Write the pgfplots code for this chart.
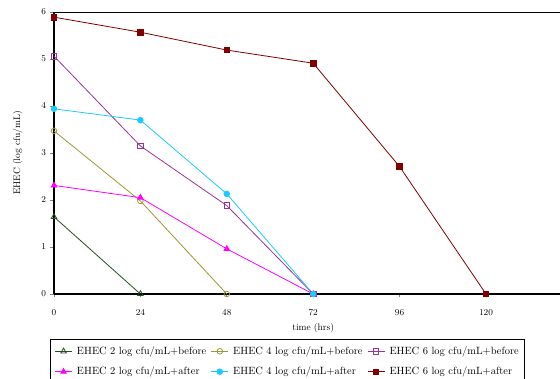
\documentclass[border=0pt]{standalone}
\usepackage{pgfplots}
\pgfplotsset{compat=1.18}
\definecolor{cgreen}{HTML}{234F23}
\definecolor{colive}{HTML}{999933}
\definecolor{cpurple}{HTML}{993399}
\definecolor{cmag}{HTML}{FF00FF}
\definecolor{ccyan}{HTML}{18CCFF}
\definecolor{cred}{HTML}{800000}
\begin{document}
\begin{tikzpicture}
\begin{axis}[
  at={(54pt,85pt)}, anchor=south west,
  scale only axis, width=518.4pt, height=282pt,
  xmin=0, xmax=144, ymin=0, ymax=6,
  xtick={0,24,48,72,96,120}, ytick={0,1,2,3,4,5,6},
  axis x line*=bottom, axis y line*=left,
  tick align=outside, major tick length=3.5pt,
  tick style={gray, line width=0.8pt},
  axis line style={black, line width=1.3pt},
  ticklabel style={font=\fontsize{9.5}{10}\selectfont},
  xticklabel style={yshift=-9pt},
  yticklabel style={xshift=-1pt},
  xlabel={time (hrs)}, ylabel={EHEC (log cfu/mL)},
  label style={font=\fontsize{9.5}{10}\selectfont},
  xlabel style={yshift=-1pt},
  ylabel style={yshift=12pt},
  every axis plot/.append style={line width=0.8pt},
  mark size=2.8pt,
  legend columns=3,
  legend style={at={(axis description cs:-0.0077,-0.158)}, anchor=north west,
    draw=black, line width=1.2pt, font=\fontsize{10.5}{12}\selectfont,
    column sep=3pt, row sep=8pt, inner xsep=4pt, inner ysep=6pt,
    nodes={inner sep=1.5pt}},
  legend cell align=left,
  legend image post style={line width=0.8pt},
  clip=false,
]
\draw[black, line width=1pt] (axis cs:0,6) -- (axis cs:144,6);
\addplot[color=cgreen, mark=triangle, mark options={solid, line width=0.8pt, fill=white}, mark size=3.2pt]
  coordinates {(0,1.64) (24,0)};
\addlegendentry{EHEC 2 log cfu/mL+before}
\addplot[color=colive, mark=o, mark options={fill=white}]
  coordinates {(0,3.47) (24,1.98) (48,0)};
\addlegendentry{EHEC 4 log cfu/mL+before}
\addplot[color=cpurple, mark=square, mark options={fill=white}]
  coordinates {(0,5.06) (24,3.15) (48,1.88) (72,0)};
\addlegendentry{EHEC 6 log cfu/mL+before}
\addplot[color=cmag, mark=triangle*, mark size=3.2pt]
  coordinates {(0,2.31) (24,2.05) (48,0.96) (72,0)};
\addlegendentry{EHEC 2 log cfu/mL+after}
\addplot[color=ccyan, mark=*]
  coordinates {(0,3.94) (24,3.70) (48,2.13) (72,0)};
\addlegendentry{EHEC 4 log cfu/mL+after}
\addplot[color=cred, mark=square*]
  coordinates {(0,5.89) (24,5.57) (48,5.19) (72,4.91) (96,2.71) (120,0)};
\addlegendentry{EHEC 6 log cfu/mL+after}
\end{axis}
\pgfresetboundingbox
\path[use as bounding box] (0,0) rectangle (560pt,379pt);
\end{tikzpicture}
\end{document}
